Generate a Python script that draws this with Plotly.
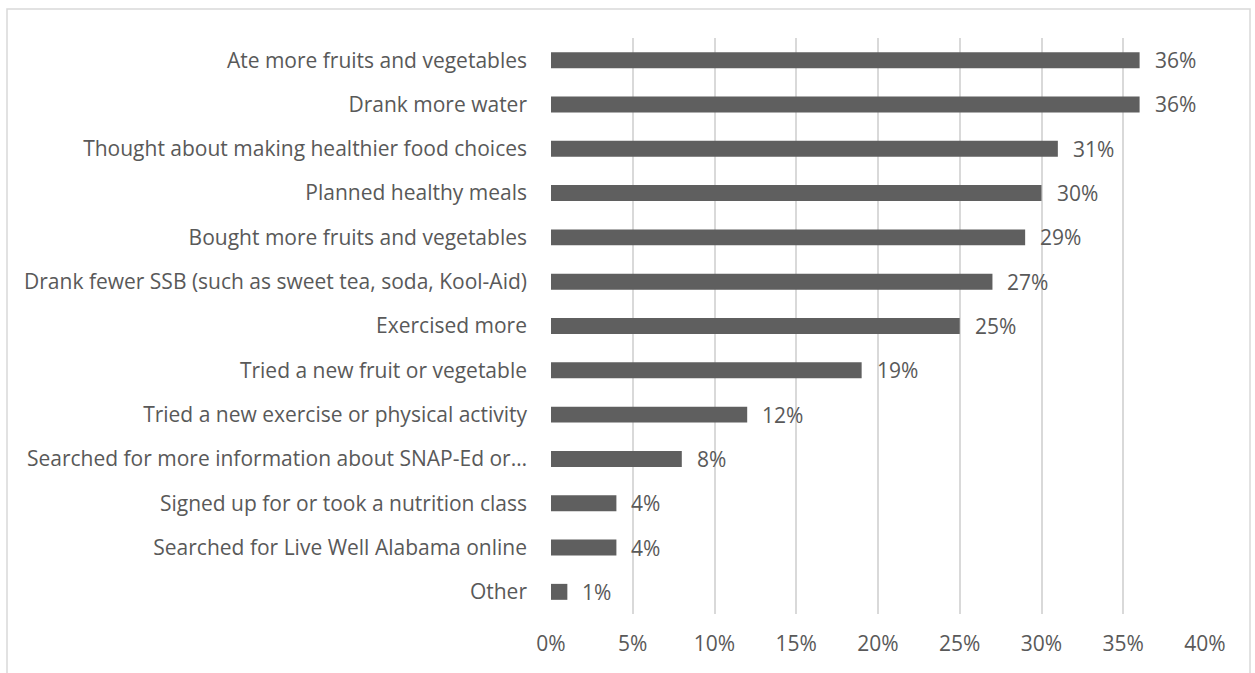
import plotly.graph_objects as go

# Reported behaviour changes, listed top to bottom
categories = [
    "Ate more fruits and vegetables",
    "Drank more water",
    "Thought about making healthier food choices",
    "Planned healthy meals",
    "Bought more fruits and vegetables",
    "Drank fewer SSB (such as sweet tea, soda, Kool-Aid)",
    "Exercised more",
    "Tried a new fruit or vegetable",
    "Tried a new exercise or physical activity",
    "Searched for more information about SNAP-Ed or…",
    "Signed up for or took a nutrition class",
    "Searched for Live Well Alabama online",
    "Other",
]
percent = [36, 36, 31, 30, 29, 27, 25, 19, 12, 8, 4, 4, 1]
x_ticks = [0, 5, 10, 15, 20, 25, 30, 35, 40]
x_tick_labels = [f"{v}%" for v in x_ticks]

BAR = "#5f5f5f"
TEXT = "#595959"
GRID = "#d9d9d9"
FONT = "Open Sans"
SIZE = 21

fig = go.Figure(
    go.Bar(
        x=percent,
        y=categories,
        orientation="h",
        marker=dict(color=BAR, line=dict(width=0)),
        width=0.36,
        hoverinfo="skip",
    )
)

# value labels to the right of each bar
for cat, val in zip(categories, percent):
    fig.add_annotation(
        x=val, y=cat, text=f"{val}%", showarrow=False,
        xanchor="left", yanchor="middle", xshift=13,
        font=dict(family=FONT, size=SIZE, color=TEXT),
    )

# outer chart frame
L, R, T, B = 551, 1205, 38, 614
W, H = R - L, B - T
fig.add_shape(
    type="rect", xref="paper", yref="paper",
    x0=(7 - L) / W, x1=(1250 - L) / W,
    y0=(B - 690) / H, y1=(B - 9) / H,
    line=dict(color=GRID, width=1.5), fillcolor="rgba(0,0,0,0)", layer="below",
)

fig.update_layout(
    width=1255, height=673,
    margin=dict(l=L, r=1255 - R, t=T, b=673 - B, autoexpand=False),
    paper_bgcolor="white", plot_bgcolor="white",
    showlegend=False,
    font=dict(family=FONT, size=SIZE, color=TEXT),
    xaxis=dict(
        range=[0, 40], tickvals=x_ticks, ticktext=x_tick_labels,
        showgrid=True, gridcolor=GRID, gridwidth=1.5,
        zeroline=False, showline=False, ticks="",
        ticklabelstandoff=15,
        tickfont=dict(family=FONT, size=SIZE, color=TEXT),
        fixedrange=True,
    ),
    yaxis=dict(
        categoryorder="array", categoryarray=categories,
        autorange="reversed",
        showgrid=False, zeroline=False, showline=False, ticks="",
        ticklabelstandoff=23,
        tickfont=dict(family=FONT, size=SIZE, color=TEXT),
        fixedrange=True,
    ),
)

fig.write_html("out.html")
